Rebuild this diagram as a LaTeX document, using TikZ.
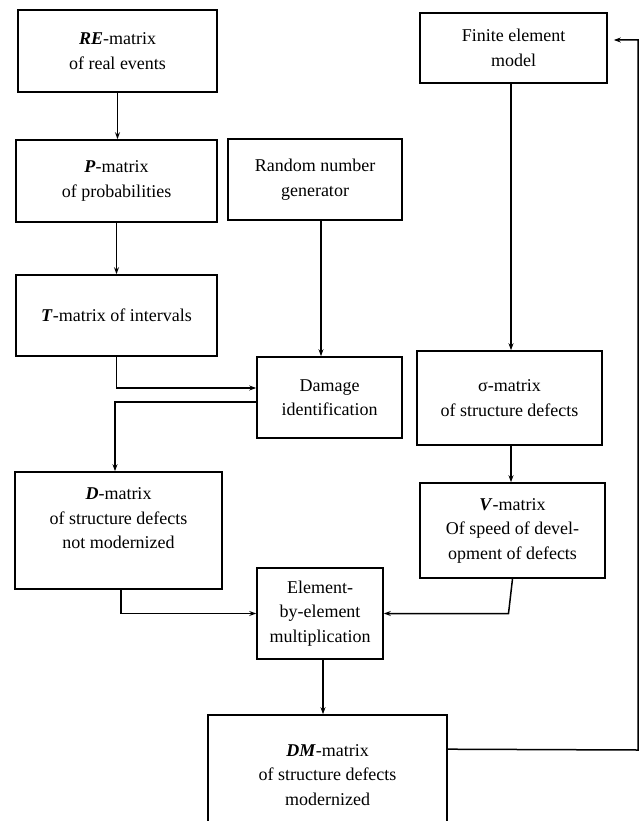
\documentclass[tikz,border=0pt]{standalone}
\usepackage{fontspec}
\setmainfont{Liberation Serif}
\usetikzlibrary{arrows.meta}

\tikzset{
  box/.style={draw, line width=1.6pt, align=center, inner sep=2pt,
    font=\fontsize{18}{24.5}\selectfont},
  flow/.style={line width=1.5pt, -{Stealth[length=7pt,width=5pt]}},
}
\newcommand{\mtx}[1]{\textbf{\textit{#1}}}

\begin{document}
\begin{tikzpicture}[x=1pt,y=-1pt]
        \useasboundingbox (0,0) rectangle (641,821);
        \clip (0,0) rectangle (641,821);

        % Left column: matrices of events
        \node[box, minimum width=199, minimum height=82] (re) at (117.5,51) {\mtx{RE}-matrix\\of real events};
        \node[box, minimum width=201, minimum height=82] (p) at (116.5,181) {\mtx{P}-matrix\\of probabilities};
        \node[box, minimum width=201, minimum height=81] (t) at (116.5,315.5) {\mtx{T}-matrix of intervals};
        \node[box, minimum width=207, minimum height=117] (d) at (118.5,530.5) {\mtx{D}-matrix\\of structure defects\\not modernized\\\mbox{}};

        % Middle column
        \node[box, minimum width=174, minimum height=81] (rng) at (315,179.5) {Random number\\generator};
        \node[box, minimum width=145, minimum height=81] (dmg) at (329.5,397.5) {Damage\\identification};
        \node[box, minimum width=126, minimum height=91] (elem) at (320,613.5) {Element-\\by-element\\multiplication};
        \node[box, minimum width=239, minimum height=120] (dm) at (327.5,775) {\mtx{DM}-matrix\\of structure defects\\modernized};

        % Right column: finite element side
        \node[box, minimum width=187, minimum height=70] (fe) at (513.5,48) {Finite element\\model};
        \node[box, minimum width=185, minimum height=94] (sig) at (509.5,398) {σ-matrix\\of structure defects};
        \node[box, minimum width=185, minimum height=95] (v) at (512.5,530.5) {\mtx{V}-matrix\\Of speed of devel-\\opment of defects};

        % Connections
        \draw[flow] (re.south) -- (re.south |- p.north);
        \draw[flow] (p.south) -- (p.south |- t.north);
        \draw[flow] ([xshift=6]rng.south) -- ([xshift=6]rng.south |- dmg.north);
        \draw[flow] (t.south) |- ([yshift=9.5]dmg.west);
        \draw[flow] ([yshift=-4.5]dmg.west) -| ([xshift=-3.5]d.north);
        \draw[flow] ([xshift=-2.5]fe.south) -- ([xshift=-2.5]fe.south |- sig.north);
        \draw[flow] ([xshift=1.5]sig.south) -- ([xshift=1.5]sig.south |- v.north);
        \draw[flow] ([xshift=2.5]d.south) |- (elem.west);
        \draw[flow] (v.south) -- ([xshift=-4]v.south |- elem.east) -- (elem.east);
        \draw[flow] ([xshift=3]elem.south) -- ([xshift=3]elem.south |- dm.north);

        % Feedback loop back to the model
        \coordinate (loop) at (638,750);
        \draw[flow] ([yshift=-35]dm.north east) -- (loop) |- ([xshift=6,yshift=8]fe.east);

    \end{tikzpicture}
\end{document}
